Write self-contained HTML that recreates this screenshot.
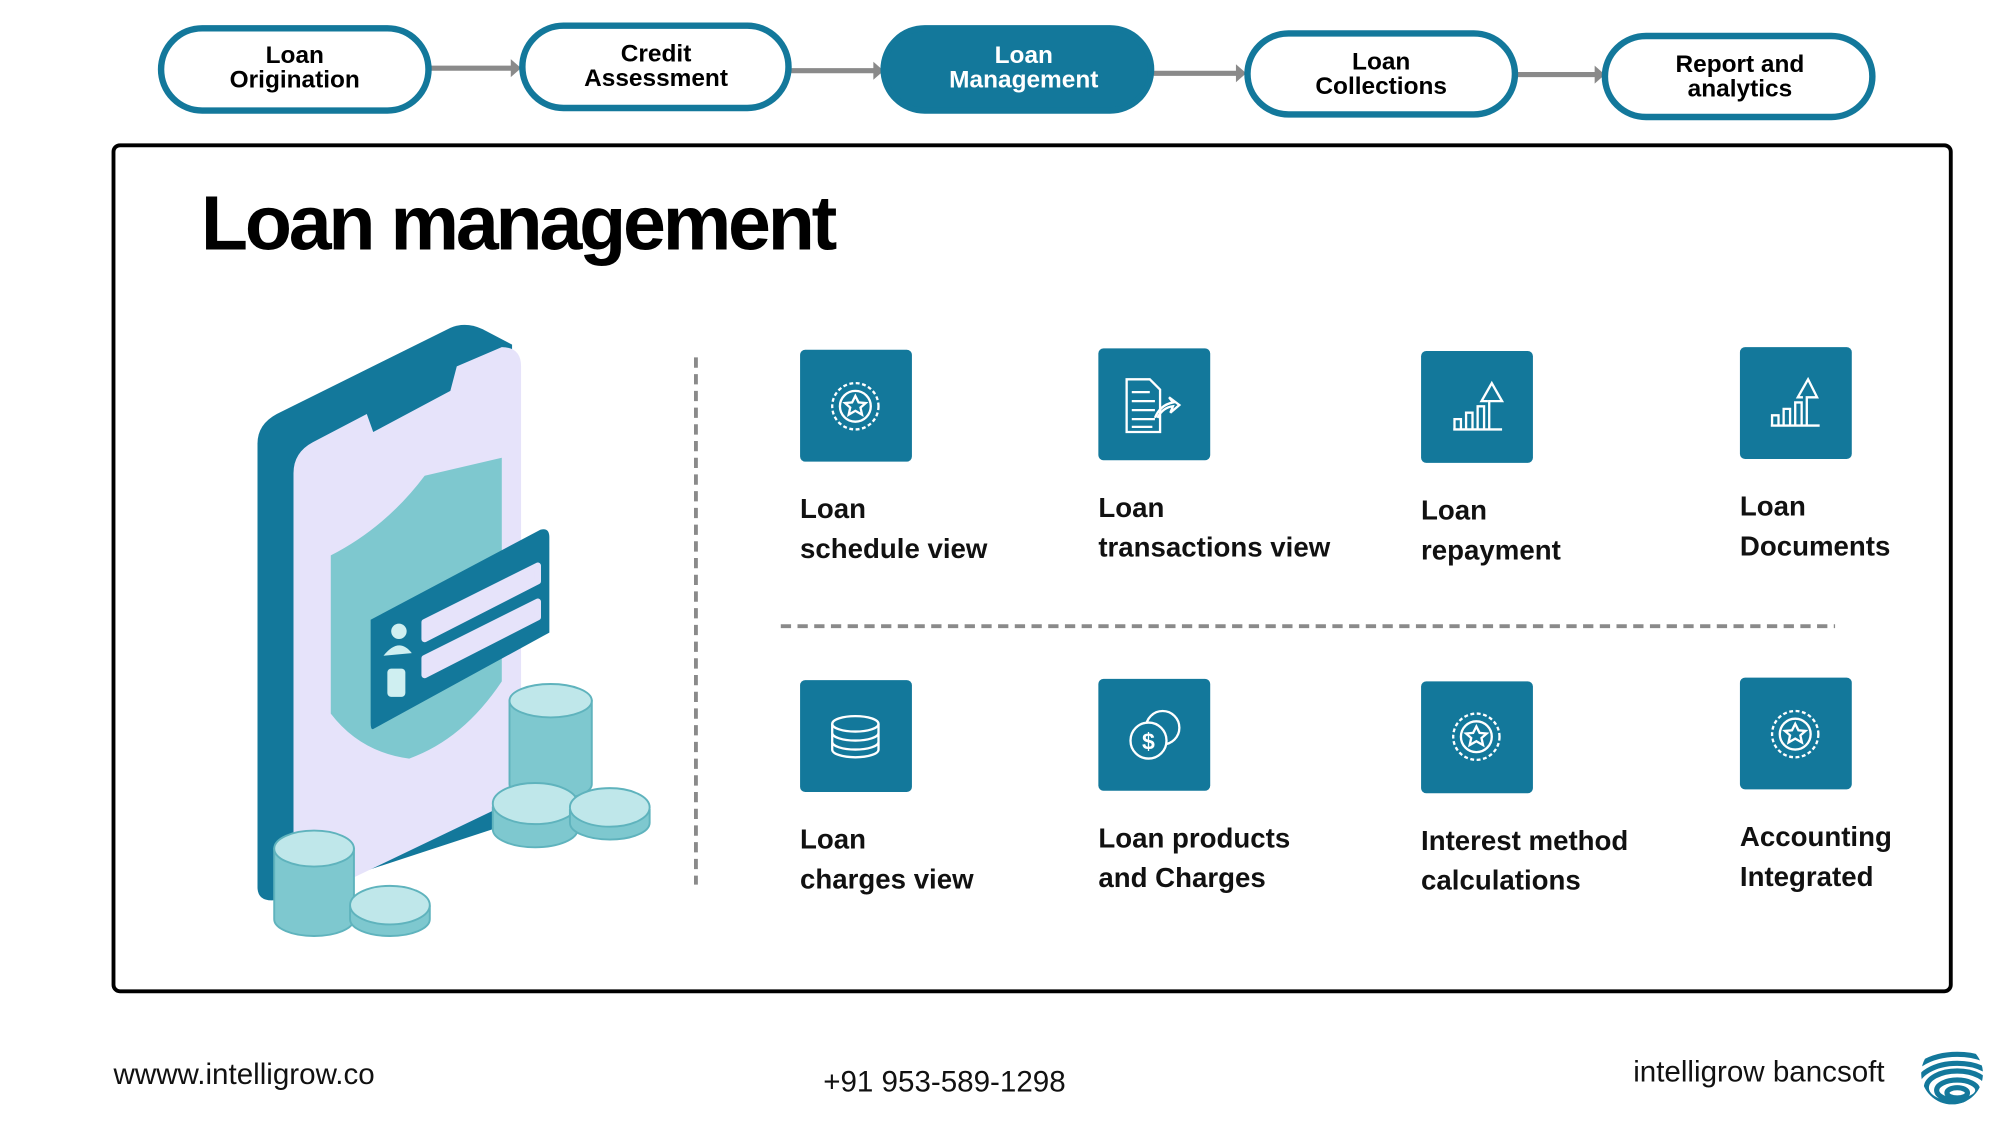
<!DOCTYPE html>
<html><head><meta charset="utf-8"><style>
html,body{margin:0;padding:0;background:#fff}
svg{display:block}
text{font-family:"Liberation Sans",sans-serif}
</style></head><body>
<svg width="2000" height="1125" viewBox="0 0 1555 875" xmlns="http://www.w3.org/2000/svg">
<rect width="1555" height="875" fill="#fff"/>
<!-- arrows -->
<g stroke="#8a8a8a" stroke-width="4">
<line x1="335" y1="53" x2="398" y2="53"/><line x1="615" y1="55" x2="680" y2="55"/>
<line x1="897" y1="57" x2="962" y2="57"/><line x1="1180" y1="58" x2="1241" y2="58"/>
</g>
<g fill="#8a8a8a">
<polygon points="397,46 405,53 397,60"/><polygon points="679,48 687,55 679,62"/>
<polygon points="961,50 969,57 961,64"/><polygon points="1240,51 1248,58 1240,65"/>
</g>
<!-- pills -->
<g stroke="#13789b" stroke-width="5" fill="#fff">
<rect x="125" y="22" width="208" height="64" rx="32"/>
<rect x="406" y="20" width="207" height="64" rx="32"/>
<rect x="687" y="22" width="208" height="64" rx="32" fill="#13789b"/>
<rect x="970" y="26" width="208" height="63" rx="32"/>
<rect x="1248" y="28" width="208" height="63" rx="32"/>
</g>
<g font-weight="bold" font-size="19" text-anchor="middle">
<text x="229" y="49">Loan</text><text x="229" y="68">Origination</text>
<text x="510" y="48">Credit</text><text x="510" y="67">Assessment</text>
<text x="796" y="49" fill="#fff">Loan</text><text x="796" y="68" fill="#fff">Management</text>
<text x="1074" y="54">Loan</text><text x="1074" y="73">Collections</text>
<text x="1353" y="56">Report and</text><text x="1353" y="75">analytics</text>
</g>
<!-- main box -->
<rect x="88" y="113" width="1429" height="658" rx="5" fill="none" stroke="#000" stroke-width="3"/>
<text x="156" y="194" font-size="60" font-weight="bold" letter-spacing="-2.5">Loan management</text>
<!-- dashed lines -->
<line x1="541" y1="278" x2="541" y2="688" stroke="#8a8a8a" stroke-width="3" stroke-dasharray="8,5"/>
<line x1="607" y1="487" x2="1427" y2="487" stroke="#8a8a8a" stroke-width="3" stroke-dasharray="8,5"/>
<!-- phone illustration -->
<path d="M200,345 Q200,330 215,322 L350,255 Q362,250 375,256 L398,268 L398,640 L215,700 Q200,702 200,690 Z" fill="#13789b"/>
<path d="M228,368 Q228,352 243,344 L285,322 L290,336 L350,304 L355,285 L390,270 Q405,270 405,285 L405,620 L228,705 Z" fill="#e6e3fa"/>
<path d="M257,432 Q300,410 330,370 L390,356 L390,530 Q360,575 318,590 Q280,585 257,555 Z" fill="#7ec8cf"/>
<path d="M288,482 L420,412 Q427,410 427,418 L427,492 L290,567 Q288,568 288,562 Z" fill="#13789b"/>
<path d="M330,484 L418,440 L418,452 L330,497 Z" fill="#e6e3fa" stroke="#e6e3fa" stroke-width="5" stroke-linejoin="round"/>
<path d="M330,512 L418,468 L418,480 L330,525 Z" fill="#e6e3fa" stroke="#e6e3fa" stroke-width="5" stroke-linejoin="round"/>
<circle cx="310" cy="491" r="6" fill="#cfeff1"/><path d="M298,510 Q310,495 320,508 Z" fill="#cfeff1"/>
<rect x="301" y="520" width="14" height="22" rx="3" fill="#cfeff1"/>
<!-- coins -->
<g stroke="#5fb3bd" stroke-width="1.5">
<path d="M396,545 L396,610 A32,12 0 0 0 460,610 L460,545 Z" fill="#7ec8cf"/>
<ellipse cx="428" cy="545" rx="32" ry="13" fill="#bfe7ea"/>
<path d="M383,628 L383,645 A33,14 0 0 0 449,645 L449,628 Z" fill="#7ec8cf"/>
<ellipse cx="416" cy="625" rx="33" ry="16" fill="#bfe7ea"/>
<path d="M443,630 L443,640 A31,13 0 0 0 505,640 L505,630 Z" fill="#7ec8cf"/>
<ellipse cx="474" cy="628" rx="31" ry="15" fill="#bfe7ea"/>
<path d="M213,660 L213,715 A31,13 0 0 0 275,715 L275,660 Z" fill="#7ec8cf"/>
<ellipse cx="244" cy="660" rx="31" ry="14" fill="#bfe7ea"/>
<path d="M272,705 L272,715 A31,13 0 0 0 334,715 L334,705 Z" fill="#7ec8cf"/>
<ellipse cx="303" cy="704" rx="31" ry="15" fill="#bfe7ea"/>
</g>
<!-- icon boxes -->
<g fill="#13789b">
<rect x="622" y="272" width="87" height="87" rx="4"/><rect x="854" y="271" width="87" height="87" rx="4"/>
<rect x="1105" y="273" width="87" height="87" rx="4"/><rect x="1353" y="270" width="87" height="87" rx="4"/>
<rect x="622" y="529" width="87" height="87" rx="4"/><rect x="854" y="528" width="87" height="87" rx="4"/>
<rect x="1105" y="530" width="87" height="87" rx="4"/><rect x="1353" y="527" width="87" height="87" rx="4"/>
</g>
<g fill="none" stroke="#fff" stroke-width="1.8">
<g id="badge"><circle cx="665" cy="316" r="18" stroke-dasharray="3,2"/><circle cx="665" cy="316" r="12"/><path d="M665,308 l2.5,5 5.5,.5 -4,3.5 1.2,5.5 -5.2,-3 -5.2,3 1.2,-5.5 -4,-3.5 5.5,-.5z"/></g>
<use href="#badge" x="483" y="257"/><use href="#badge" x="731" y="255"/>
<path d="M876,295 h18 l8,8 v33 h-26 z M880,305h14 M880,312h18 M880,319h18 M880,326h18 M880,332h16 M898,325 q4,-10 14,-12 l-3,-4 8,6 -7,6 2,-5 q-8,1 -12,9"/>
<path d="M1130,334 h38 M1131,334 v-8 h5 v8 M1140,334 v-13 h5 v13 M1149,334 v-18 h5 v18 M1158,334 v-22 h5 l5,0 -8,-14 -8,14 h5"/>
<path d="M1377,331 h38 M1378,331 v-8 h5 v8 M1387,331 v-13 h5 v13 M1396,331 v-18 h5 v18 M1405,331 v-22 h2 l6,0 -7,-14 -8,14 h4"/>
<ellipse cx="665" cy="563" rx="18" ry="6"/><path d="M647,563 v20 a18,6 0 0 0 36,0 v-20 M647,570 a18,6 0 0 0 36,0 M647,577 a18,6 0 0 0 36,0"/>
<circle cx="904" cy="566" r="13"/><circle cx="893" cy="576" r="14" fill="#13789b"/>
</g>
<text x="893" y="583" font-size="18" font-weight="bold" fill="#fff" text-anchor="middle">$</text>
<!-- labels -->
<g font-size="21.5" font-weight="bold" fill="#111">
<text x="622" y="403">Loan</text><text x="622" y="434">schedule view</text>
<text x="854" y="402">Loan</text><text x="854" y="433">transactions view</text>
<text x="1105" y="404">Loan</text><text x="1105" y="435">repayment</text>
<text x="1353" y="401">Loan</text><text x="1353" y="432">Documents</text>
<text x="622" y="660">Loan</text><text x="622" y="691">charges view</text>
<text x="854" y="659">Loan products</text><text x="854" y="690">and Charges</text>
<text x="1105" y="661">Interest method</text><text x="1105" y="692">calculations</text>
<text x="1353" y="658">Accounting</text><text x="1353" y="689">Integrated</text>
</g>
<!-- footer -->
<g font-size="23" fill="#111">
<text x="88" y="843">wwww.intelligrow.co</text>
<text x="640" y="849">+91 953-589-1298</text>
<text x="1270" y="841">intelligrow bancsoft</text>
</g>
<clipPath id="lc"><circle cx="1518" cy="835" r="24"/></clipPath>
<g clip-path="url(#lc)" fill="none" stroke="#13789b" stroke-width="4">
<ellipse cx="1522" cy="850" rx="8" ry="4"/><ellipse cx="1522" cy="848" rx="16" ry="8"/>
<ellipse cx="1522" cy="846" rx="24" ry="13"/><ellipse cx="1522" cy="846" rx="32" ry="19"/><ellipse cx="1522" cy="846" rx="40" ry="26"/>
</g>
</svg>
</body></html>
